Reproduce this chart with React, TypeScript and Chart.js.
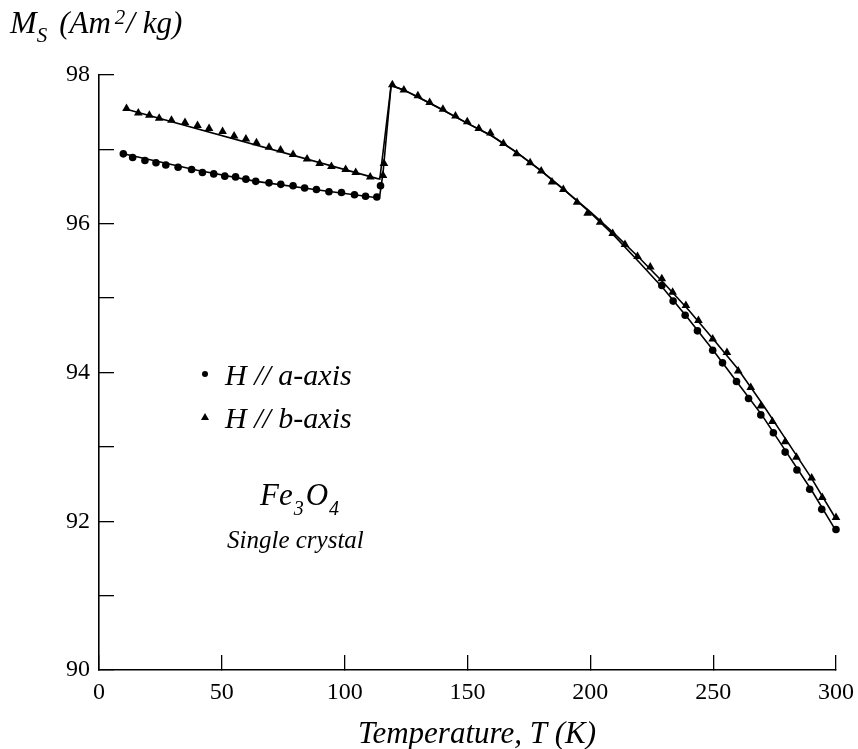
import React, { useEffect, useRef } from "react";
import { Chart, registerables } from "chart.js";

Chart.register(...registerables);

// Marker data: H // a-axis (circles)
const tempA = [
  9.9, 13.7, 18.7, 23.2, 27.2, 32.2, 37.7, 42.1, 46.7, 51.2, 55.6, 59.8, 63.8, 69.2, 74.0, 79.0,
  83.7, 88.5, 93.6, 98.7, 104.0, 108.5, 113.1, 114.6,
  229.1, 233.7, 238.6, 243.6, 249.8, 253.8, 259.5, 264.4, 269.4, 274.5, 279.3, 284.1, 289.3,
  294.2, 300.0,
];
const msA = [
  96.94, 96.89, 96.85, 96.82, 96.79, 96.76, 96.73, 96.69, 96.67, 96.64, 96.63, 96.6, 96.57, 96.55,
  96.53, 96.51, 96.48, 96.46, 96.43, 96.42, 96.39, 96.37, 96.36, 96.51,
  95.17, 94.96, 94.77, 94.56, 94.3, 94.13, 93.88, 93.65, 93.43, 93.19, 92.93, 92.69, 92.43, 92.16,
  91.89,
];

// Marker data: H // b-axis (triangles)
const tempB = [
  11.2, 16.0, 20.5, 24.5, 29.5, 35.0, 40.1, 44.8, 50.3, 55.0, 59.8, 64.1, 69.2, 73.9, 79.0, 84.7,
  89.8, 94.6, 100.4, 104.5, 110.4, 115.6, 116.0,
  119.4, 124.1, 129.8, 134.6, 140.0, 145.1, 149.9, 154.6, 159.3, 164.6, 170.0, 175.5, 180.0, 184.4,
  189.0, 194.6, 198.9, 204.0, 209.1, 214.1, 219.2, 224.4, 229.1, 233.5, 238.9, 244.0, 249.8, 255.6,
  260.2, 265.3, 269.4, 274.1, 279.3, 283.9, 290.1, 294.4, 300.0,
];
const msB = [
  97.55, 97.49, 97.46, 97.42, 97.39, 97.36, 97.32, 97.28, 97.24, 97.18, 97.14, 97.09, 97.03, 96.99,
  96.93, 96.87, 96.81, 96.77, 96.73, 96.69, 96.63, 96.65, 96.81,
  97.87, 97.8, 97.72, 97.63, 97.54, 97.45, 97.37, 97.28, 97.22, 97.08, 96.94, 96.82, 96.71, 96.56,
  96.46, 96.29, 96.14, 96.02, 95.87, 95.72, 95.56, 95.42, 95.26, 95.08, 94.9, 94.7, 94.45, 94.27,
  94.02, 93.8, 93.55, 93.34, 93.07, 92.86, 92.58, 92.32, 92.05,
];

// Fitted curves
const lineTempA = [
  9.9, 40, 64, 90, 113.2, 114.3, 115.6, 118.9, 124, 130, 140, 150, 160, 170, 180, 190, 200, 210,
  220, 230, 240, 250, 260, 270, 280, 290, 300,
];
const lineMsA = [
  96.94, 96.72, 96.57, 96.45, 96.35, 96.38, 96.68, 97.86, 97.8, 97.7, 97.53, 97.35, 97.18, 96.96,
  96.71, 96.44, 96.15, 95.83, 95.48, 95.12, 94.72, 94.3, 93.86, 93.42, 92.92, 92.42, 91.87,
];
const lineTempB = [
  11.2, 113.0, 114.3, 118.9, 124, 130, 140, 150, 160, 170, 180, 190, 200, 210, 220, 230, 240, 250,
  260, 270, 280, 290, 300,
];
const lineMsB = [
  97.54, 96.61, 96.6, 97.86, 97.8, 97.7, 97.53, 97.35, 97.18, 96.96, 96.71, 96.44, 96.16, 95.86,
  95.54, 95.2, 94.84, 94.45, 94.05, 93.58, 93.08, 92.58, 92.03,
];

const xTicks = [0, 50, 100, 150, 200, 250, 300];
const yLabelTicks = [90, 92, 94, 96, 98];

const SERIF = '"Liberation Serif", "DejaVu Serif", serif';

const toPoints = (xs: number[], ys: number[]) => xs.map((x, i) => ({ x, y: ys[i] }));

const annotations = {
  id: "annotations",
  afterDraw(chart: any) {
    const ctx = chart.ctx as CanvasRenderingContext2D;
    ctx.save();
    ctx.fillStyle = "#000";
    ctx.textAlign = "left";
    ctx.textBaseline = "alphabetic";

    // Y axis title: M_S (Am^2/ kg)
    let x = 10;
    ctx.font = `italic 32px ${SERIF}`;
    ctx.fillText("M", x, 33);
    x += ctx.measureText("M").width;
    ctx.font = `italic 21px ${SERIF}`;
    ctx.fillText("S", x, 42);
    x += ctx.measureText("S").width + 12;
    ctx.font = `italic 31px ${SERIF}`;
    ctx.fillText("(Am", x, 33);
    x += ctx.measureText("(Am").width + 4;
    ctx.font = `italic 21px ${SERIF}`;
    ctx.fillText("2", x, 24);
    x += ctx.measureText("2").width + 1;
    ctx.font = `italic 31px ${SERIF}`;
    ctx.fillText("/ kg)", x, 33);

    // X axis title
    ctx.textAlign = "center";
    ctx.font = `italic 31px ${SERIF}`;
    ctx.fillText("Temperature, T (K)", 477, 743);

    // Legend
    ctx.textAlign = "left";
    ctx.beginPath();
    ctx.arc(205, 374, 3, 0, Math.PI * 2);
    ctx.fill();
    ctx.beginPath();
    ctx.moveTo(205, 413);
    ctx.lineTo(209, 420);
    ctx.lineTo(201, 420);
    ctx.closePath();
    ctx.fill();
    ctx.font = `italic 30px ${SERIF}`;
    ctx.fillText("H // a-axis", 225, 385);
    ctx.fillText("H // b-axis", 225, 428);

    // Fe3O4 label
    let fx = 260;
    ctx.font = `italic 31px ${SERIF}`;
    ctx.fillText("Fe", fx, 505);
    fx += ctx.measureText("Fe").width + 1;
    ctx.font = `italic 20px ${SERIF}`;
    ctx.fillText("3", fx, 515);
    fx += ctx.measureText("3").width + 2;
    ctx.font = `italic 31px ${SERIF}`;
    ctx.fillText("O", fx, 505);
    fx += ctx.measureText("O").width + 1;
    ctx.font = `italic 20px ${SERIF}`;
    ctx.fillText("4", fx, 515);

    ctx.font = `italic 25px ${SERIF}`;
    ctx.fillText("Single crystal", 227, 548);
    ctx.restore();
  },
};

export default function App() {
  const ref = useRef<HTMLCanvasElement>(null);
  useEffect(() => {
    document.body.style.margin = "0";
    const canvas = ref.current;
    if (!canvas) return;
    const chart = new Chart(canvas, {
      type: "scatter",
      data: {
        datasets: [
          {
            label: "H // b-axis",
            data: toPoints(tempB, msB),
            showLine: false,
            pointStyle: "triangle",
            pointRadius: 5,
            backgroundColor: "#000",
            borderColor: "#000",
            borderWidth: 0,
            clip: false,
          } as any,
          {
            label: "H // a-axis",
            data: toPoints(tempA, msA),
            showLine: false,
            pointStyle: "circle",
            pointRadius: 3.8,
            backgroundColor: "#000",
            borderColor: "#000",
            borderWidth: 0,
            clip: false,
          },
          {
            label: "fit b",
            data: toPoints(lineTempB, lineMsB),
            showLine: true,
            pointRadius: 0,
            borderColor: "#000",
            borderWidth: 1.6,
            tension: 0,
            clip: false,
          },
          {
            label: "fit a",
            data: toPoints(lineTempA, lineMsA),
            showLine: true,
            pointRadius: 0,
            borderColor: "#000",
            borderWidth: 1.6,
            tension: 0,
            clip: false,
          },
        ],
      },
      options: {
        responsive: false,
        animation: false,
        layout: { padding: { left: 39, right: 22, top: 75, bottom: 0 } },
        plugins: { legend: { display: false }, tooltip: { enabled: false } },
        scales: {
          x: {
            type: "linear",
            min: 0,
            max: 300,
            afterFit(scale: any) {
              scale.height = 79;
              scale.paddingLeft = 0;
              scale.paddingRight = 0;
            },
            afterBuildTicks(scale: any) {
              scale.ticks = xTicks.map((v) => ({ value: v }));
            },
            ticks: {
              autoSkip: false,
              maxRotation: 0,
              padding: 23,
              color: "#000",
              font: { family: SERIF, size: 24 },
            },
            grid: {
              drawOnChartArea: false,
              drawTicks: true,
              tickLength: -15,
              tickColor: "#000",
              lineWidth: 1.3,
            },
            border: { display: true, color: "#000", width: 1.6 },
          },
          y: {
            type: "linear",
            min: 90,
            max: 98,
            afterFit(scale: any) {
              scale.width = 60;
              scale.paddingTop = 0;
              scale.paddingBottom = 0;
            },
            ticks: {
              stepSize: 1,
              autoSkip: false,
              padding: 24,
              color: "#000",
              font: { family: SERIF, size: 24 },
              callback: (v: any) => (yLabelTicks.includes(Number(v)) ? String(v) : ""),
            },
            grid: {
              drawOnChartArea: false,
              drawTicks: true,
              tickLength: -15,
              tickColor: "#000",
              lineWidth: 1.3,
            },
            border: { display: true, color: "#000", width: 1.6 },
          },
        },
      },
      plugins: [annotations],
    });
    return () => chart.destroy();
  }, []);
  return (
    <div style={{ width: 858, height: 749, position: "relative", background: "#fff" }}>
      <canvas ref={ref} width={858} height={749} style={{ display: "block" }} />
    </div>
  );
}
